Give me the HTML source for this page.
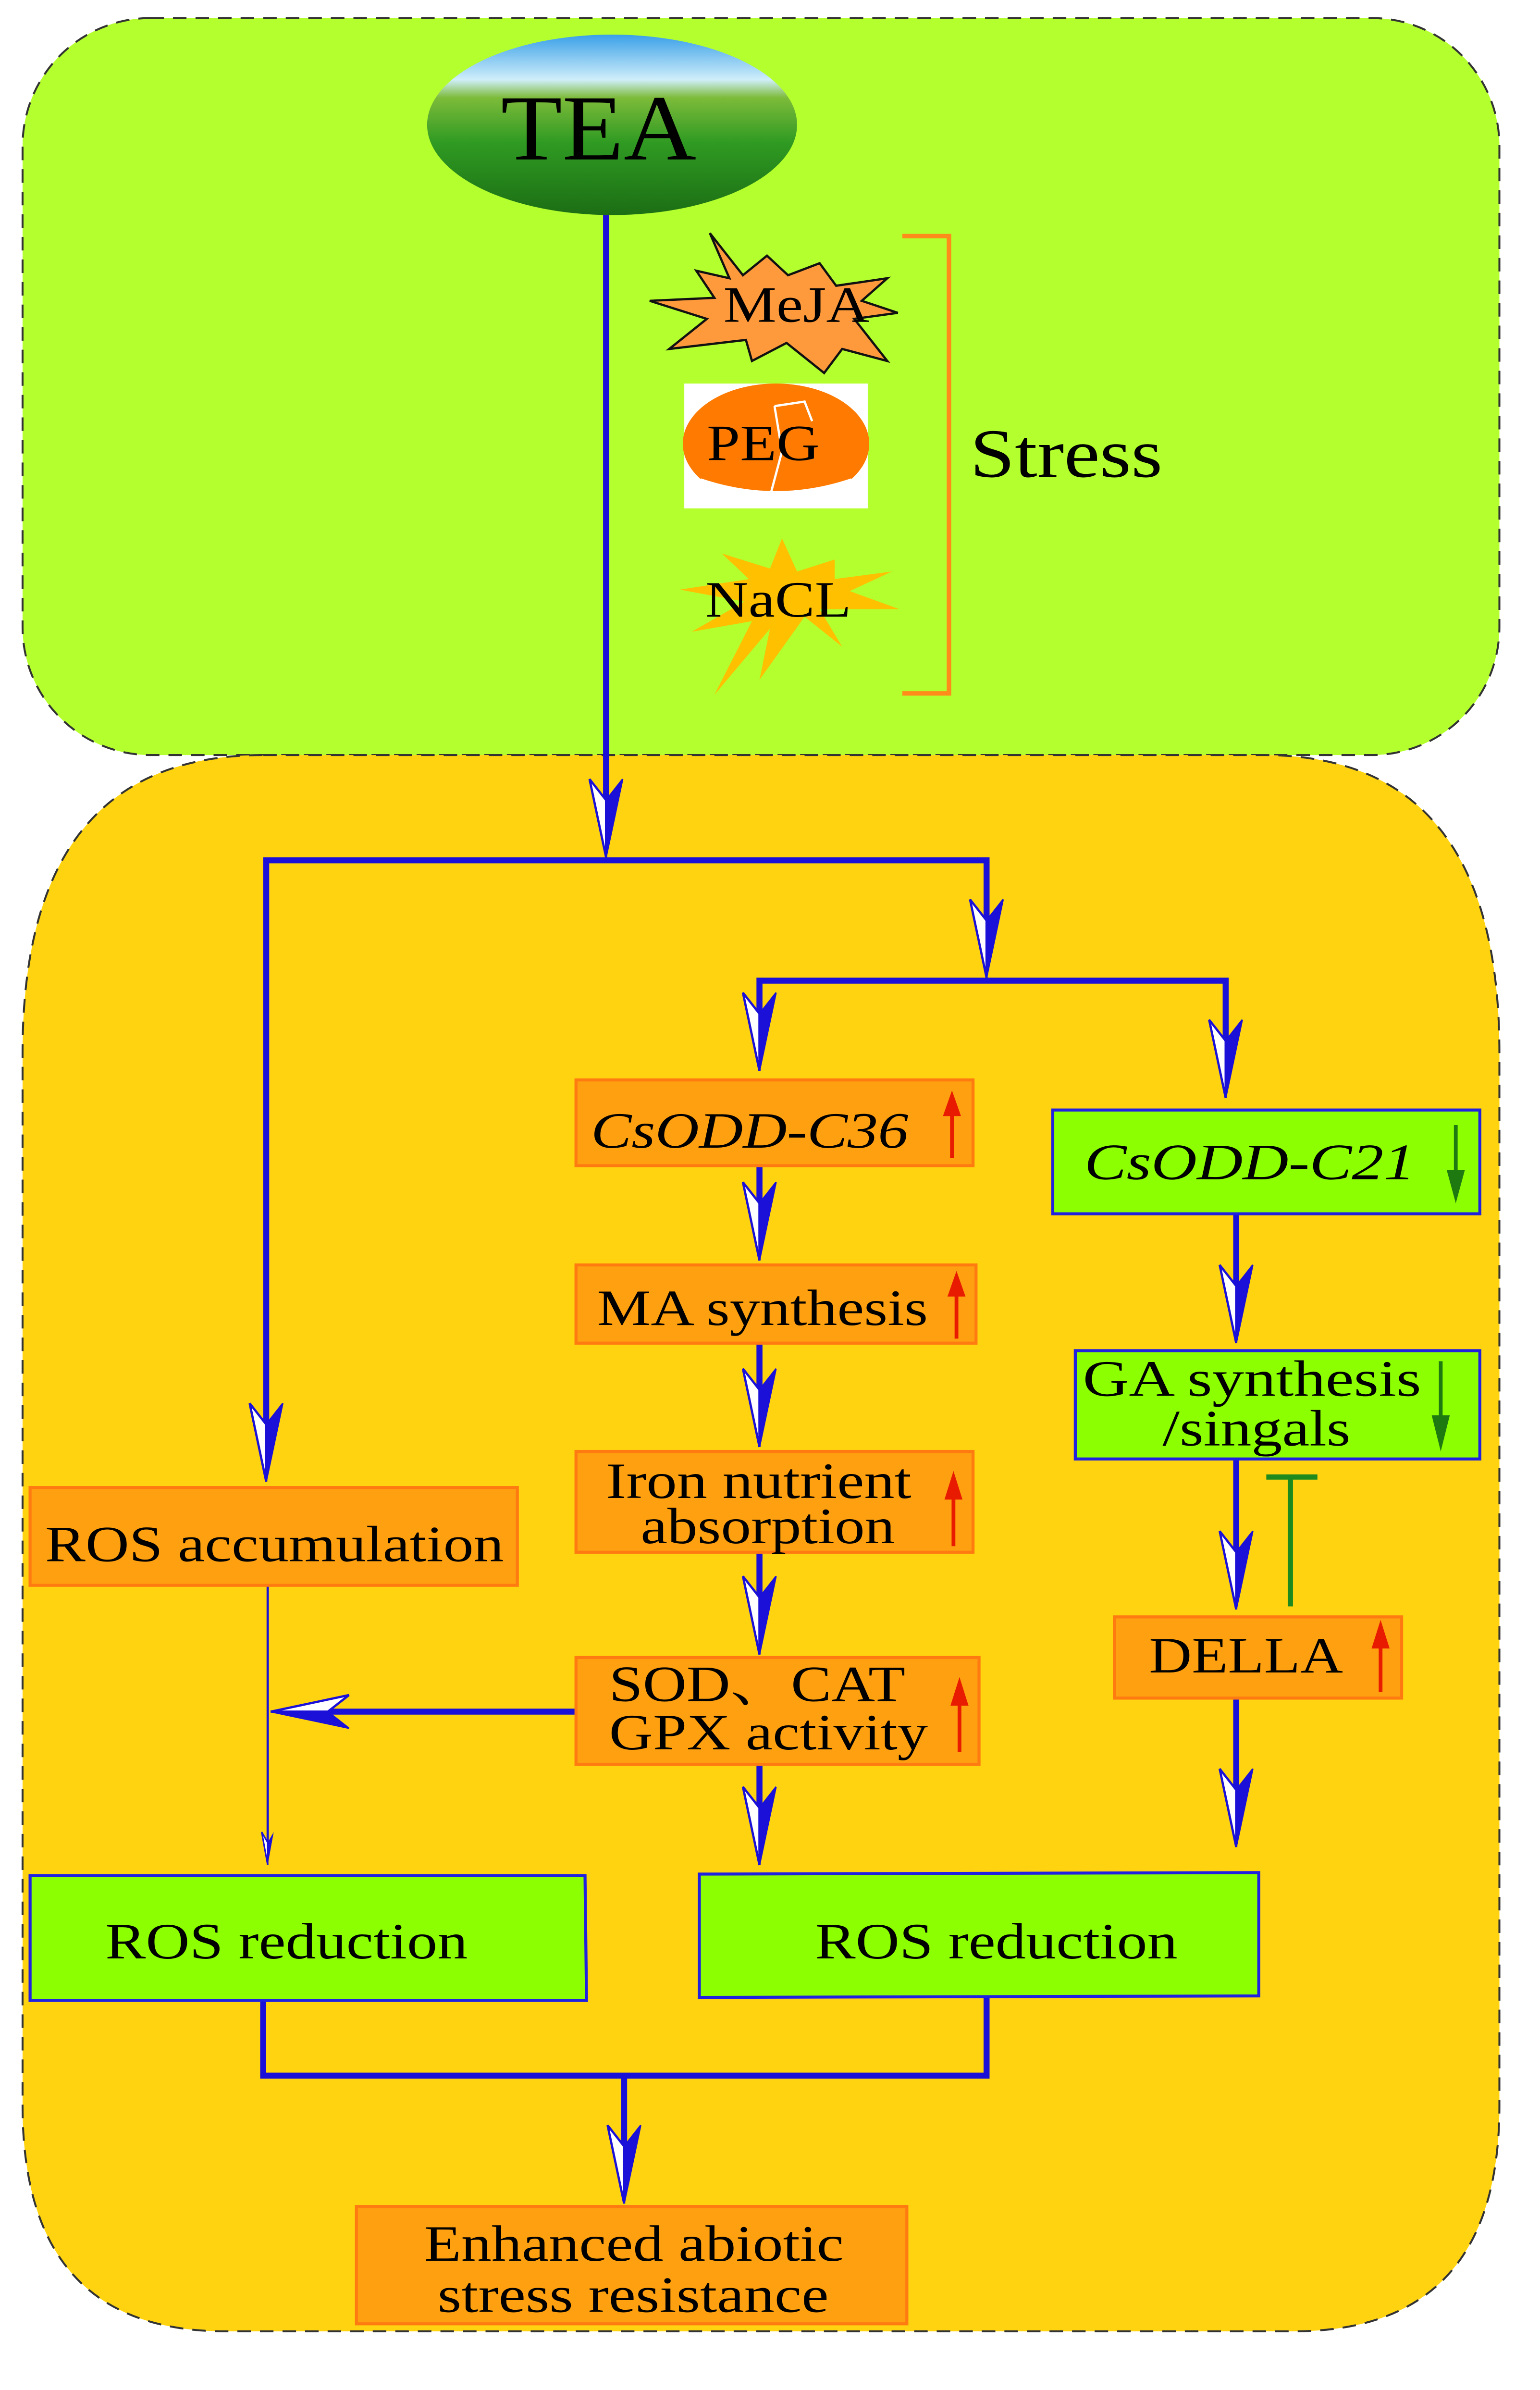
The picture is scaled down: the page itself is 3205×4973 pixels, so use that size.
<!DOCTYPE html>
<html><head><meta charset="utf-8"><style>
html,body{margin:0;padding:0;background:#fff;}
svg{display:block;}
text{font-family:"Liberation Serif",serif;fill:#000;}
</style></head><body>
<svg width="3205" height="4973" viewBox="0 0 1024 1589" preserveAspectRatio="none" xmlns="http://www.w3.org/2000/svg">
<defs>
<g id="ah"><polygon points="0,0 -11,-52 0,-38" fill="#fff" stroke="#1a10d8" stroke-width="1.5"/><polygon points="0,0 11,-52 0,-38" fill="#1a10d8" stroke="#1a10d8" stroke-width="1"/></g>
<g id="ahs"><polygon points="0,0 -4,-22 0,-15" fill="#fff" stroke="#1a10d8" stroke-width="1"/><polygon points="0,0 4,-22 0,-15" fill="#1a10d8"/></g>
<linearGradient id="sky" x1="0" y1="0" x2="0" y2="1"><stop offset="0" stop-color="#3aa0e8"/><stop offset="0.25" stop-color="#cfeefa"/><stop offset="0.35" stop-color="#7dbb3a"/><stop offset="0.6" stop-color="#2f9a22"/><stop offset="1" stop-color="#1c6e14"/></linearGradient>
</defs>
<!-- panels -->
<rect x="15" y="12" width="982" height="490" rx="85" ry="85" fill="#b4ff2e" stroke="#333" stroke-width="1.3" stroke-dasharray="9,6"/>
<path d="M175,502 L840,502 Q997,502 997,700 L997,1400 Q997,1550 860,1550 L150,1550 Q15,1550 15,1400 L15,700 Q15,502 175,502 Z" fill="#ffd30f" stroke="#333" stroke-width="1.3" stroke-dasharray="9,6"/>
<!-- TEA -->
<ellipse cx="407" cy="83" rx="123" ry="60" fill="url(#sky)"/>
<text x="333" y="106" font-size="62" textLength="130" lengthAdjust="spacingAndGlyphs">TEA</text>
<!-- stress icons -->
<polygon points="472,155 494,183 510,170 524,183 545,175 556,190 590,185 573,200 597,208 568,212 590,240 560,232 548,248 523,228 500,240 496,226 445,232 470,212 432,200 475,198 463,180 485,185" fill="#ff9a3c" stroke="#111" stroke-width="1.5"/>
<text x="481" y="214" font-size="34" textLength="97" lengthAdjust="spacingAndGlyphs">MeJA</text>
<rect x="455" y="255" width="122" height="83" fill="#fff"/>
<ellipse cx="516" cy="295" rx="62" ry="40" fill="#ff7a00"/>
<path d="M466,318 Q516,335 566,318 L566,326 Q516,345 466,326 Z" fill="#fff"/>
<path d="M515,270 L520,300 L512,330 M515,270 L535,267 L540,280" stroke="#fff" stroke-width="1.5" fill="none"/>
<text x="470" y="306" font-size="34" textLength="75" lengthAdjust="spacingAndGlyphs">PEG</text>
<polygon points="520,358 512,378 480,368 498,385 452,392 495,400 460,420 500,413 475,462 512,418 505,452 535,410 560,430 545,405 598,405 565,393 593,380 555,385 555,372 530,380" fill="#ffc000"/>
<text x="469" y="410" font-size="34" textLength="97" lengthAdjust="spacingAndGlyphs">NaCL</text>
<path d="M600,157 L631,157 L631,461 L600,461" stroke="#ff8c1a" stroke-width="3" fill="none"/>
<text x="645" y="317" font-size="46" textLength="128" lengthAdjust="spacingAndGlyphs">Stress</text>
<!-- connectors -->
<g stroke="#1a10d8" fill="none" stroke-width="4">
<line x1="403" y1="143" x2="403" y2="560"/>
<polyline points="177,975 177,572 656,572 656,640"/>
<polyline points="505,705 505,652 815,652 815,720"/>
<line x1="505" y1="775" x2="505" y2="830"/>
<line x1="505" y1="893" x2="505" y2="955"/>
<line x1="505" y1="1032" x2="505" y2="1092"/>
<line x1="505" y1="1173" x2="505" y2="1230"/>
<line x1="822" y1="807" x2="822" y2="885"/>
<line x1="822" y1="970" x2="822" y2="1060"/>
<line x1="822" y1="1129" x2="822" y2="1218"/>
<line x1="383" y1="1138" x2="200" y2="1138"/>
<polyline points="175,1330 175,1380 656,1380 656,1327"/>
<line x1="415" y1="1380" x2="415" y2="1455"/>
</g>
<line x1="178" y1="1054" x2="178" y2="1235" stroke="#1a10d8" stroke-width="1.5"/>
<use href="#ahs" transform="translate(178,1240)"/>
<use href="#ah" transform="translate(403,570)"/>
<use href="#ah" transform="translate(656,650)"/>
<use href="#ah" transform="translate(177,985)"/>
<use href="#ah" transform="translate(505,712)"/>
<use href="#ah" transform="translate(815,730)"/>
<use href="#ah" transform="translate(505,838)"/>
<use href="#ah" transform="translate(505,962)"/>
<use href="#ah" transform="translate(505,1100)"/>
<use href="#ah" transform="translate(505,1240)"/>
<use href="#ah" transform="translate(822,893)"/>
<use href="#ah" transform="translate(822,1070)"/>
<use href="#ah" transform="translate(822,1228)"/>
<use href="#ah" transform="translate(180,1138) rotate(90)"/>
<use href="#ah" transform="translate(415,1465)"/>
<!-- inhibitor -->
<g stroke="#1e8a1e" stroke-width="3.5"><line x1="858" y1="1068" x2="858" y2="982"/><line x1="842" y1="982" x2="876" y2="982"/></g>
<!-- boxes -->
<g stroke="#ff7a10" stroke-width="2" fill="#ffa010">
<rect x="383" y="718" width="264" height="57"/>
<rect x="383" y="841" width="266" height="52"/>
<rect x="383" y="965" width="264" height="67"/>
<rect x="20" y="989" width="324" height="65"/>
<rect x="383" y="1102" width="268" height="71"/>
<rect x="741" y="1075" width="191" height="54"/>
<rect x="237" y="1467" width="366" height="78"/>
</g>
<g stroke="#2020e0" stroke-width="2" fill="#8cff00">
<rect x="700" y="738" width="284" height="69"/>
<rect x="715" y="898" width="269" height="72"/>
<polygon points="20,1247 389,1247 390,1330 20,1330"/>
<polygon points="465,1246 837,1245 837,1327 465,1328"/>
</g>
<!-- texts -->
<text x="393" y="763" font-size="34" font-style="italic" textLength="211" lengthAdjust="spacingAndGlyphs">CsODD-C36</text>
<text x="721" y="784" font-size="34" font-style="italic" textLength="220" lengthAdjust="spacingAndGlyphs">CsODD-C21</text>
<text x="397" y="881" font-size="34" textLength="220" lengthAdjust="spacingAndGlyphs">MA synthesis</text>
<text x="720" y="928" font-size="34" textLength="225" lengthAdjust="spacingAndGlyphs">GA  synthesis</text>
<text x="773" y="961" font-size="34" textLength="125" lengthAdjust="spacingAndGlyphs">/singals</text>
<text x="403" y="996" font-size="34" textLength="203" lengthAdjust="spacingAndGlyphs">Iron nutrient</text>
<text x="426" y="1026" font-size="34" textLength="169" lengthAdjust="spacingAndGlyphs">absorption</text>
<text x="30" y="1038" font-size="34" textLength="305" lengthAdjust="spacingAndGlyphs">ROS accumulation</text>
<text x="405" y="1131" font-size="34" textLength="197" lengthAdjust="spacingAndGlyphs" style="font-family:'Liberation Serif','Noto Serif CJK SC',serif">SOD、CAT</text>
<text x="405" y="1163" font-size="34" textLength="212" lengthAdjust="spacingAndGlyphs">GPX activity</text>
<text x="764" y="1112" font-size="34" textLength="129" lengthAdjust="spacingAndGlyphs">DELLA</text>
<text x="70" y="1302" font-size="34" textLength="241" lengthAdjust="spacingAndGlyphs">ROS reduction</text>
<text x="542" y="1302" font-size="34" textLength="241" lengthAdjust="spacingAndGlyphs">ROS reduction</text>
<text x="282" y="1503" font-size="34" textLength="279" lengthAdjust="spacingAndGlyphs">Enhanced abiotic</text>
<text x="291" y="1537" font-size="34" textLength="260" lengthAdjust="spacingAndGlyphs">stress resistance</text>
<!-- up/down arrows -->
<g stroke-width="2.5">
<line x1="633" y1="770" x2="633" y2="740" stroke="#e81a00"/><polygon points="627,742 633,725 639,742" fill="#e81a00"/>
<line x1="636" y1="890" x2="636" y2="860" stroke="#e81a00"/><polygon points="630,862 636,845 642,862" fill="#e81a00"/>
<line x1="634" y1="1028" x2="634" y2="995" stroke="#e81a00"/><polygon points="628,997 634,978 640,997" fill="#e81a00"/>
<line x1="638" y1="1165" x2="638" y2="1132" stroke="#e81a00"/><polygon points="632,1134 638,1115 644,1134" fill="#e81a00"/>
<line x1="918" y1="1125" x2="918" y2="1094" stroke="#e81a00"/><polygon points="912,1096 918,1077 924,1096" fill="#e81a00"/>
<line x1="968" y1="748" x2="968" y2="780" stroke="#1e7a10"/><polygon points="962,778 968,800 974,778" fill="#1e7a10"/>
<line x1="958" y1="905" x2="958" y2="943" stroke="#1e7a10"/><polygon points="952,941 958,965 964,941" fill="#1e7a10"/>
</g>
</svg>
</body></html>
